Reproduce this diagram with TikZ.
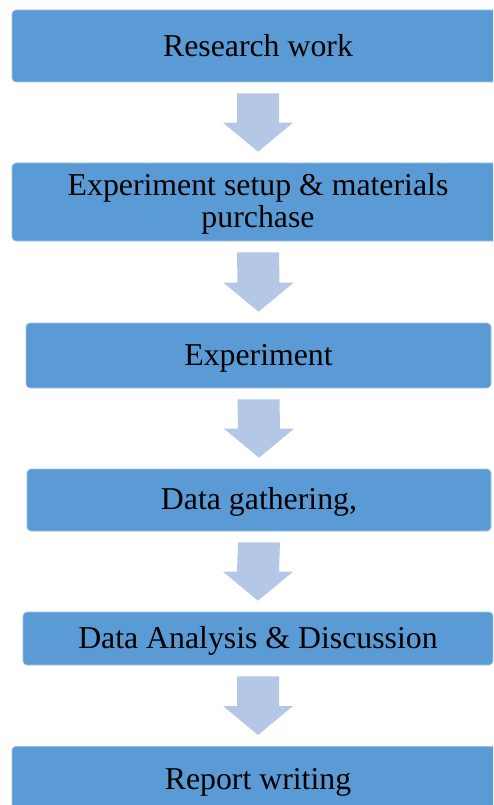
\documentclass[tikz,border=0pt]{standalone}
\usepackage{fontspec}
\setmainfont{Liberation Serif}
\usetikzlibrary{calc}
\definecolor{boxblue}{HTML}{5B9BD5}
\definecolor{arrowblue}{HTML}{B4C7E7}
\tikzset{
  stepbox/.style={rectangle, rounded corners=4pt, fill=boxblue, draw=boxblue!60!white, line width=0.6pt,
    inner sep=0pt, align=center, font=\fontsize{31.8}{32}\selectfont},
  blockarrow/.style={fill=arrowblue, draw=none}
}
\newcommand{\myarrow}[2]{%
  \path[blockarrow] ($(#1.south)+(-21,11)$) -- ($(#1.south)+(21,11)$) -- ($(#2.north)+(21,-40)$)
    -- ($(#2.north)+(35,-40)$) -- ($(#2.north)+(0,-11)$) -- ($(#2.north)+(-35,-40)$)
    -- ($(#2.north)+(-21,-40)$) -- cycle;}
\begin{document}
\begin{tikzpicture}[x=1pt,y=-1pt]
\useasboundingbox (0,0) rectangle (493,805);
\clip (0,0) rectangle (493,805);
\node[stepbox, minimum width=492, minimum height=72] (b1) at (258,46) {Research work};
\node[stepbox, minimum width=492, minimum height=78] (b2) at (258,202) {};
\node[font=\fontsize{31.8}{32}\selectfont, inner sep=0pt, anchor=base] (t2a) at (258,195) {Experiment setup \& materials};
\node[font=\fontsize{31.8}{32}\selectfont, inner sep=0pt, anchor=base] (t2b) at (258,227) {purchase};
\node[stepbox, minimum width=465, minimum height=65] (b3) at (258.5,355.5) {};
\node[font=\fontsize{31.8}{32}\selectfont, inner sep=0pt, anchor=base] (t3) at (258.5,365) {Experiment};
\node[stepbox, minimum width=464, minimum height=62] (b4) at (259,500) {};
\node[font=\fontsize{31.8}{32}\selectfont, inner sep=0pt, anchor=base] (t4) at (259,509) {Data gathering,};
\node[stepbox, minimum width=470, minimum height=53] (b5) at (258,638.5) {};
\node[font=\fontsize{31.8}{32}\selectfont, inner sep=0pt, anchor=base] (t5) at (258,648) {Data Analysis \& Discussion};
\node[stepbox, minimum width=492, minimum height=70, anchor=north] (b6) at (258,746) {};
\node[font=\fontsize{31.8}{32}\selectfont, inner sep=0pt, anchor=base] (t6) at (258,789) {Report writing};
\myarrow{b1}{b2}
\myarrow{b2}{b3}
\myarrow{b3}{b4}
\myarrow{b4}{b5}
\myarrow{b5}{b6}
\end{tikzpicture}
\end{document}
